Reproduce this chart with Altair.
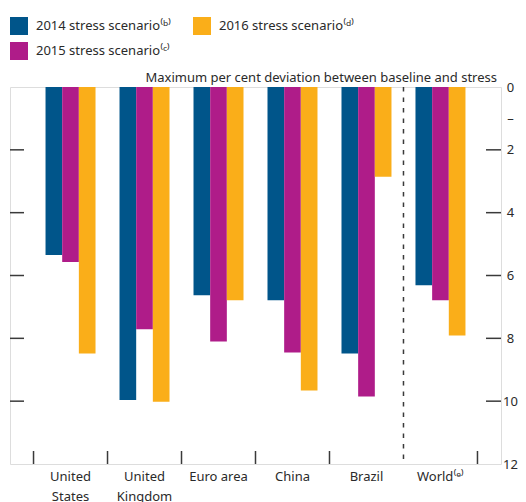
import altair as alt
import pandas as pd

countries = ["United\nStates", "United\nKingdom", "Euro area", "China", "Brazil", "World⁽ᵉ⁾"]
scenarios = ["2014 stress scenario⁽ᵇ⁾", "2015 stress scenario⁽ᶜ⁾", "2016 stress scenario⁽ᵈ⁾"]
s2014 = [5.35, 9.96, 6.63, 6.79, 8.48, 6.31]
s2015 = [5.57, 7.71, 8.10, 8.45, 9.85, 6.79]
s2016 = [8.48, 10.02, 6.79, 9.66, 2.86, 7.91]
tick_values = [2, 4, 6, 8, 10]
label_values = [0, 1, 2, 4, 6, 8, 10, 12]
colors = ["#00558A", "#AF1C89", "#FAAE19"]
title_text = "Maximum per cent deviation between baseline and stress"

W, H = 491, 377
FONT = "Noto Sans"
TXT = "#2a2a2a"
LINE = "#3a3a3a"

rows = []
for i, c in enumerate(countries):
    for s, vals in zip(scenarios, [s2014, s2015, s2016]):
        rows.append({"country": c, "scenario": s, "value": vals[i]})
df = pd.DataFrame(rows)

xscale = alt.Scale(domain=countries, paddingInner=0, paddingOuter=0.318)
yscale = alt.Scale(domain=[0, 12], reverse=True, nice=False, zero=True)

xaxis = alt.Axis(title=None, ticks=False, domain=False, labelAngle=0,
                 labelExpr="split(datum.label, '\\n')",
                 labelPadding=6, labelFont=FONT, labelFontSize=13,
                 labelColor=TXT, labelLineHeight=20)
yaxis = alt.Axis(orient="right", values=label_values, title=None,
                 labelExpr="datum.value == 1 ? '–' : datum.label",
                 ticks=False, tickSize=0, domain=False, grid=False,
                 labelAlign="center", labelPadding=9, labelFlush=False,
                 labelOverlap=False, labelFont=FONT, labelFontSize=13,
                 labelColor=TXT)

legend_order = [scenarios[0], scenarios[2], scenarios[1]]
legend_colors = [colors[0], colors[2], colors[1]]

bars = alt.Chart(df).mark_bar(strokeWidth=0).encode(
    x=alt.X("country:N", scale=xscale, sort=countries, axis=xaxis),
    xOffset=alt.XOffset("scenario:N", sort=scenarios,
                        scale=alt.Scale(paddingInner=0, paddingOuter=0.72)),
    y=alt.Y("value:Q", scale=yscale, axis=yaxis),
    color=alt.Color("scenario:N",
                    scale=alt.Scale(domain=legend_order, range=legend_colors),
                    legend=alt.Legend(orient="none", legendX=0, legendY=-70,
                                      columns=2, direction="horizontal", title=None,
                                      symbolType="square", symbolSize=324,
                                      symbolStrokeWidth=0, symbolOpacity=1,
                                      labelFont=FONT, labelFontSize=13,
                                      labelColor=TXT, labelOffset=8,
                                      columnPadding=21, rowPadding=7, padding=0,
                                      labelLimit=300)),
)

tdf = pd.DataFrame({"v": tick_values})
left_ticks = alt.Chart(tdf).mark_rule(color=LINE, strokeWidth=1.5).encode(
    y=alt.Y("v:Q", scale=yscale, axis=yaxis),
    x=alt.value(0), x2=alt.value(14),
)
right_ticks = alt.Chart(tdf).mark_rule(color=LINE, strokeWidth=1.5).encode(
    y=alt.Y("v:Q", scale=yscale, axis=yaxis),
    x=alt.value(W - 15), x2=alt.value(W),
)

bdf = pd.DataFrame({"country": countries[:-1]})
bottom_ticks = alt.Chart(bdf).mark_rule(color=LINE, strokeWidth=1.5).encode(
    x=alt.X("country:N", scale=xscale, sort=countries, bandPosition=0, axis=xaxis),
    y=alt.value(H - 13), y2=alt.value(H),
)
edf = pd.DataFrame({"country": [countries[-1]]})
end_tick = alt.Chart(edf).mark_rule(color=LINE, strokeWidth=1.5).encode(
    x=alt.X("country:N", scale=xscale, sort=countries, bandPosition=1, axis=xaxis),
    y=alt.value(H - 13), y2=alt.value(H),
)
dashed = alt.Chart(edf).mark_rule(color=LINE, strokeWidth=1.5, strokeDash=[4.5, 6]).encode(
    x=alt.X("country:N", scale=xscale, sort=countries, bandPosition=0, axis=xaxis),
    y=alt.value(0), y2=alt.value(H),
)

title = alt.Chart(pd.DataFrame({"t": [title_text]})).mark_text(
    align="right", baseline="alphabetic", font=FONT, fontSize=13, color=TXT
).encode(text="t:N", x=alt.value(W - 4), y=alt.value(-5))

chart = alt.layer(bars, left_ticks, right_ticks, bottom_ticks, end_tick, dashed, title).properties(
    width=W, height=H,
    autosize=alt.AutoSizeParams(type="none"),
    padding={"left": 2, "top": 79, "right": 17, "bottom": 45},
).configure_view(stroke=LINE, strokeWidth=1.3).configure(background="white")

chart.save("out.html", embed_options={"renderer": "svg", "actions": False})
